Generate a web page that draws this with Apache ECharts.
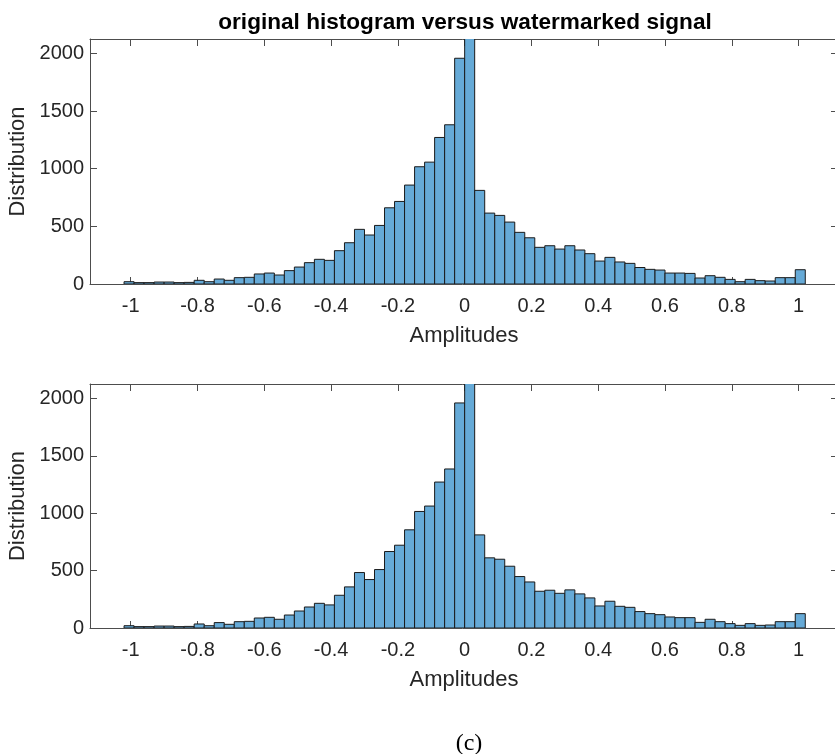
<!DOCTYPE html>
<html>
<head>
<meta charset="utf-8">
<script src="https://cdn.jsdelivr.net/npm/echarts@6/dist/echarts.min.js"></script>
<style>
  html, body { margin: 0; padding: 0; background: #fff; }
  #chart { width: 835px; height: 754px; }
</style>
</head>
<body>
<div id="chart"></div>
<script>
// ---- data ----
const binStart = -1.02;
const binWidth = 0.03;
const originalCounts = [20, 12, 12, 17, 17, 12, 14, 32, 20, 43, 32, 55, 58, 87, 95, 78, 116, 147, 185, 214, 205, 289, 358, 474, 425, 508, 661, 716, 858, 1017, 1057, 1271, 1381, 1958, 2200, 812, 615, 595, 537, 448, 401, 318, 332, 303, 332, 295, 263, 199, 231, 191, 179, 143, 127, 121, 95, 95, 92, 52, 72, 58, 40, 20, 40, 29, 26, 55, 55, 124];
const watermarkedCounts = [20, 12, 12, 17, 17, 12, 14, 35, 20, 47, 32, 55, 58, 87, 93, 76, 113, 148, 183, 215, 201, 285, 358, 483, 422, 509, 666, 721, 855, 1015, 1062, 1271, 1385, 1960, 2200, 811, 611, 599, 538, 448, 401, 320, 329, 302, 332, 297, 262, 192, 233, 189, 180, 143, 125, 116, 96, 90, 90, 49, 76, 55, 38, 23, 38, 23, 26, 55, 55, 125];
const xTickValues = [-1, -0.8, -0.6, -0.4, -0.2, 0, 0.2, 0.4, 0.6, 0.8, 1];
const yTickValues = [0, 500, 1000, 1500, 2000];
const titleText = 'original histogram versus watermarked signal';
const xName = 'Amplitudes';
const yName = 'Distribution';
const captionText = '(c)';

// ---- build ----
function toBins(counts) {
  return counts.map((c, i) => {
    const a = +(binStart + i * binWidth).toFixed(4);
    const b = +(binStart + (i + 1) * binWidth).toFixed(4);
    return [a, b, c];
  });
}

const FONT = "'Liberation Sans', Arial, Helvetica, sans-serif";
const AX = '#4d4d4d';
const TXT = '#262626';
const XMIN = -1.122, XMAX = 1.118, YMAX = 2125;

function xAxes(gi) {
  return [
    {
      gridIndex: gi, type: 'value', min: XMIN, max: XMAX, position: 'bottom',
      axisLine: { show: true, onZero: false, lineStyle: { color: AX, width: 1 } },
      axisTick: { show: true, inside: true, length: 7, customValues: xTickValues, lineStyle: { color: AX } },
      axisLabel: { show: true, customValues: xTickValues, margin: 12, color: TXT, fontSize: 20, fontFamily: FONT,
        formatter: v => String(Math.round(v * 10) / 10) },
      splitLine: { show: false },
      name: xName, nameLocation: 'middle', nameGap: 41,
      nameTextStyle: { color: TXT, fontSize: 22, fontFamily: FONT }
    },
    {
      gridIndex: gi, type: 'value', min: XMIN, max: XMAX, position: 'top',
      axisLine: { show: true, onZero: false, lineStyle: { color: AX, width: 1 } },
      axisTick: { show: true, inside: true, length: 7, customValues: xTickValues, lineStyle: { color: AX } },
      axisLabel: { show: false },
      splitLine: { show: false }
    }
  ];
}
function yAxes(gi) {
  return [
    {
      gridIndex: gi, type: 'value', min: 0, max: YMAX, position: 'left',
      axisLine: { show: true, onZero: false, lineStyle: { color: AX, width: 1 } },
      axisTick: { show: true, inside: true, length: 7, customValues: yTickValues, lineStyle: { color: AX } },
      axisLabel: { show: true, customValues: yTickValues, margin: 6, color: TXT, fontSize: 20, fontFamily: FONT,
        formatter: v => String(Math.round(v)) },
      splitLine: { show: false },
      name: yName, nameLocation: 'middle', nameGap: 58, nameRotate: 90,
      nameTextStyle: { color: TXT, fontSize: 22, fontFamily: FONT }
    },
    {
      gridIndex: gi, type: 'value', min: 0, max: YMAX, position: 'right',
      axisLine: { show: true, onZero: false, lineStyle: { color: AX, width: 1 } },
      axisTick: { show: true, inside: true, length: 7, customValues: yTickValues, lineStyle: { color: AX } },
      axisLabel: { show: false },
      splitLine: { show: false }
    }
  ];
}

function renderBar(params, api) {
  const x0 = api.value(0), x1 = api.value(1), y = api.value(2);
  const p0 = api.coord([x0, 0]);
  const p1 = api.coord([x1, y]);
  return {
    type: 'rect',
    shape: { x: p0[0], y: p1[1], width: p1[0] - p0[0], height: p0[1] - p1[1] },
    style: { fill: '#66aad7', stroke: '#1a1a1a', lineWidth: 1 }
  };
}

const chart = echarts.init(document.getElementById('chart'), null, { renderer: 'canvas' });
chart.setOption({
  animation: false,
  backgroundColor: '#ffffff',
  title: [
    { text: titleText, left: 460, top: 6, textAlign: 'center',
      textStyle: { fontFamily: FONT, fontSize: 22.6, fontWeight: 'bold', color: '#000' } },
    { text: captionText, left: 464, top: 727, textAlign: 'center',
      textStyle: { fontFamily: "'Liberation Serif', 'Times New Roman', serif", fontSize: 24, fontWeight: 'normal', color: '#000' } }
  ],
  grid: [
    { left: 90, top: 39, width: 748, height: 245, outerBoundsMode: 'none', containLabel: false },
    { left: 90, top: 384, width: 748, height: 244, outerBoundsMode: 'none', containLabel: false }
  ],
  xAxis: [...xAxes(0), ...xAxes(1)],
  yAxis: [...yAxes(0), ...yAxes(1)],
  series: [
    { type: 'custom', xAxisIndex: 0, yAxisIndex: 0, clip: true, renderItem: renderBar, data: toBins(originalCounts), encode: { x: [0, 1], y: 2 } },
    { type: 'custom', xAxisIndex: 2, yAxisIndex: 2, clip: true, renderItem: renderBar, data: toBins(watermarkedCounts), encode: { x: [0, 1], y: 2 } }
  ]
});
</script>
</body>
</html>
